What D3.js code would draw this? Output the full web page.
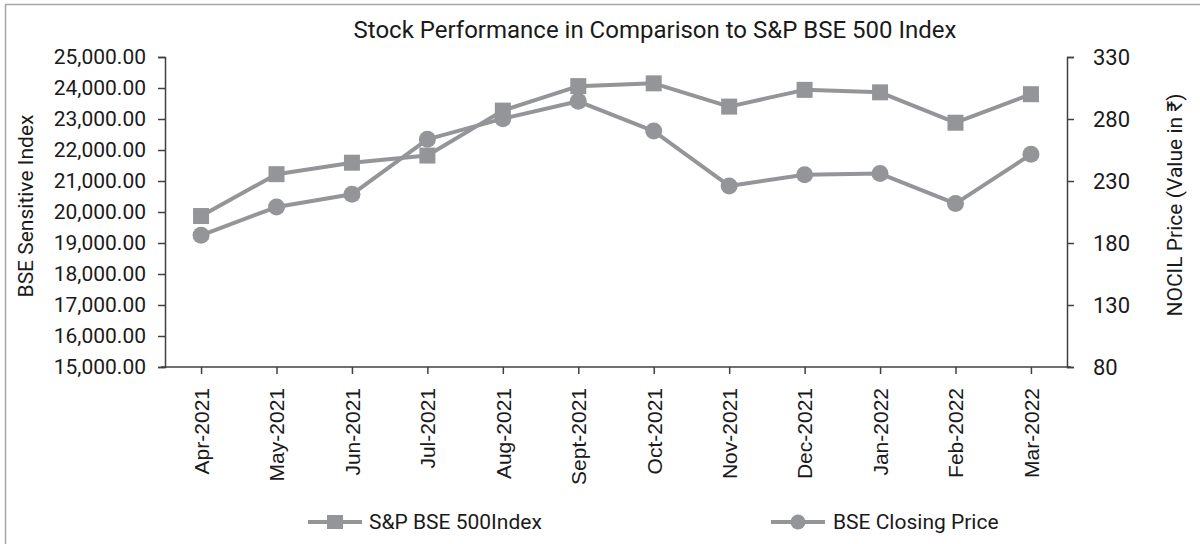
<!DOCTYPE html>
<html>
<head>
<meta charset="utf-8">
<script src="https://cdn.jsdelivr.net/npm/d3@7/dist/d3.min.js"></script>
<style>
  html, body { margin: 0; padding: 0; background: #fff; }
  svg { display: block; }
</style>
</head>
<body>
<svg id="chart" width="1200" height="544"></svg>
<script>
const categories = ["Apr-2021","May-2021","Jun-2021","Jul-2021","Aug-2021","Sept-2021","Oct-2021","Nov-2021","Dec-2021","Jan-2022","Feb-2022","Mar-2022"];
const bse500Index = [19870, 21220, 21590, 21820, 23270, 24060, 24150, 23400, 23940, 23860, 22880, 23800];
const closingPrice = [186.2, 209.0, 219.3, 263.6, 280.3, 294.3, 270.3, 226.0, 235.1, 236.0, 211.8, 251.5];
const leftTicks = [15000,16000,17000,18000,19000,20000,21000,22000,23000,24000,25000];
const rightTicks = [80,130,180,230,280,330];
const seriesNames = ["S&P BSE 500Index", "BSE Closing Price"];

(function () {
const svg = d3.select("#chart");
const pLeft = 165, pRight = 1067, pTop = 57, pBottom = 367;
const gray = "#939598";
const axisColor = "#404040";
const font = "Roboto, 'Noto Sans', sans-serif";
const textColor = "#1a1a1a";

// border
svg.append("rect").attr("x", 5.5).attr("y", 4.5).attr("width", 1300).attr("height", 700)
  .attr("fill", "none").attr("stroke", "#a6a6a6").attr("stroke-width", 1.5);

const x = d3.scalePoint().domain(categories).range([pLeft, pRight]).padding(0.478);
const yL = d3.scaleLinear().domain([15000, 25000]).range([pBottom, pTop]);
const yR = d3.scaleLinear().domain([80, 330]).range([pBottom, pTop]);

// title
svg.append("text").attr("x", 655).attr("y", 38).attr("text-anchor", "middle")
  .attr("font-family", font).attr("font-size", 24).attr("fill", textColor)
  .text("Stock Performance in Comparison to S&P BSE 500 Index");

// left axis
const gL = svg.append("g").attr("transform", `translate(${pLeft},0)`)
  .call(d3.axisLeft(yL).tickValues(leftTicks).tickFormat(d3.format(",.2f")).tickSize(7).tickPadding(12));
// right axis
const gR = svg.append("g").attr("transform", `translate(${pRight},0)`)
  .call(d3.axisRight(yR).tickValues(rightTicks).tickFormat(d3.format("d")).tickSize(7).tickPadding(19));
// x axis
const gX = svg.append("g").attr("transform", `translate(0,${pBottom})`)
  .call(d3.axisBottom(x).tickSize(7).tickPadding(12).tickSizeOuter(0));

[gL, gR, gX].forEach(g => {
  g.selectAll("path.domain").attr("stroke", axisColor).attr("stroke-width", 1.5);
  g.selectAll(".tick line").attr("stroke", axisColor).attr("stroke-width", 1.5);
});
gL.selectAll(".tick text").attr("font-family", font).attr("font-size", 21).attr("fill", textColor);
gR.selectAll(".tick text").attr("font-family", font).attr("font-size", 22).attr("fill", textColor);
gX.selectAll(".tick text")
  .attr("font-family", "'Liberation Sans', Arial, sans-serif").attr("font-size", 21).attr("fill", textColor)
  .attr("transform", "rotate(-90)").attr("text-anchor", "end").attr("dy", "0.35em")
  .attr("x", -21).attr("y", 0);
gX.select("path.domain").attr("d", `M${pLeft - 4},0H${pRight + 4}`);

// axis titles
svg.append("text").attr("transform", `translate(33,206) rotate(-90)`).attr("text-anchor", "middle")
  .attr("font-family", font).attr("font-size", 21).attr("fill", textColor).text("BSE Sensitive Index");
svg.append("text").attr("transform", `translate(1182,205) rotate(-90)`).attr("text-anchor", "middle")
  .attr("font-family", font).attr("font-size", 21).attr("fill", textColor).text("NOCIL Price (Value in ₹)");

// lines
const lineL = d3.line().x((d, i) => x(categories[i])).y(d => yL(d));
const lineR = d3.line().x((d, i) => x(categories[i])).y(d => yR(d));

svg.append("path").datum(bse500Index).attr("d", lineL).attr("fill", "none")
  .attr("stroke", gray).attr("stroke-width", 4).attr("stroke-linejoin", "round");
svg.append("path").datum(closingPrice).attr("d", lineR).attr("fill", "none")
  .attr("stroke", gray).attr("stroke-width", 4).attr("stroke-linejoin", "round");

const sq = 16;
svg.append("g").selectAll("rect").data(bse500Index).join("rect")
  .attr("x", (d, i) => x(categories[i]) - sq / 2).attr("y", d => yL(d) - sq / 2)
  .attr("width", sq).attr("height", sq).attr("fill", gray);
svg.append("g").selectAll("circle").data(closingPrice).join("circle")
  .attr("cx", (d, i) => x(categories[i])).attr("cy", d => yR(d)).attr("r", 8.5).attr("fill", gray);

// legend
const legY = 522;
const leg1 = svg.append("g");
leg1.append("line").attr("x1", 308).attr("x2", 362).attr("y1", legY).attr("y2", legY)
  .attr("stroke", gray).attr("stroke-width", 4);
leg1.append("rect").attr("x", 335 - 8).attr("y", legY - 7).attr("width", 16).attr("height", 14).attr("fill", gray);
leg1.append("text").attr("x", 369).attr("y", legY).attr("dy", "0.35em")
  .attr("font-family", font).attr("font-size", 21).attr("fill", textColor).text(seriesNames[0]);

const leg2 = svg.append("g");
leg2.append("line").attr("x1", 771).attr("x2", 825).attr("y1", legY).attr("y2", legY)
  .attr("stroke", gray).attr("stroke-width", 4);
leg2.append("circle").attr("cx", 798).attr("cy", legY).attr("r", 7.5).attr("fill", gray);
leg2.append("text").attr("x", 833).attr("y", legY).attr("dy", "0.35em")
  .attr("font-family", font).attr("font-size", 21).attr("fill", textColor).text(seriesNames[1]);
})();
</script>
</body>
</html>
